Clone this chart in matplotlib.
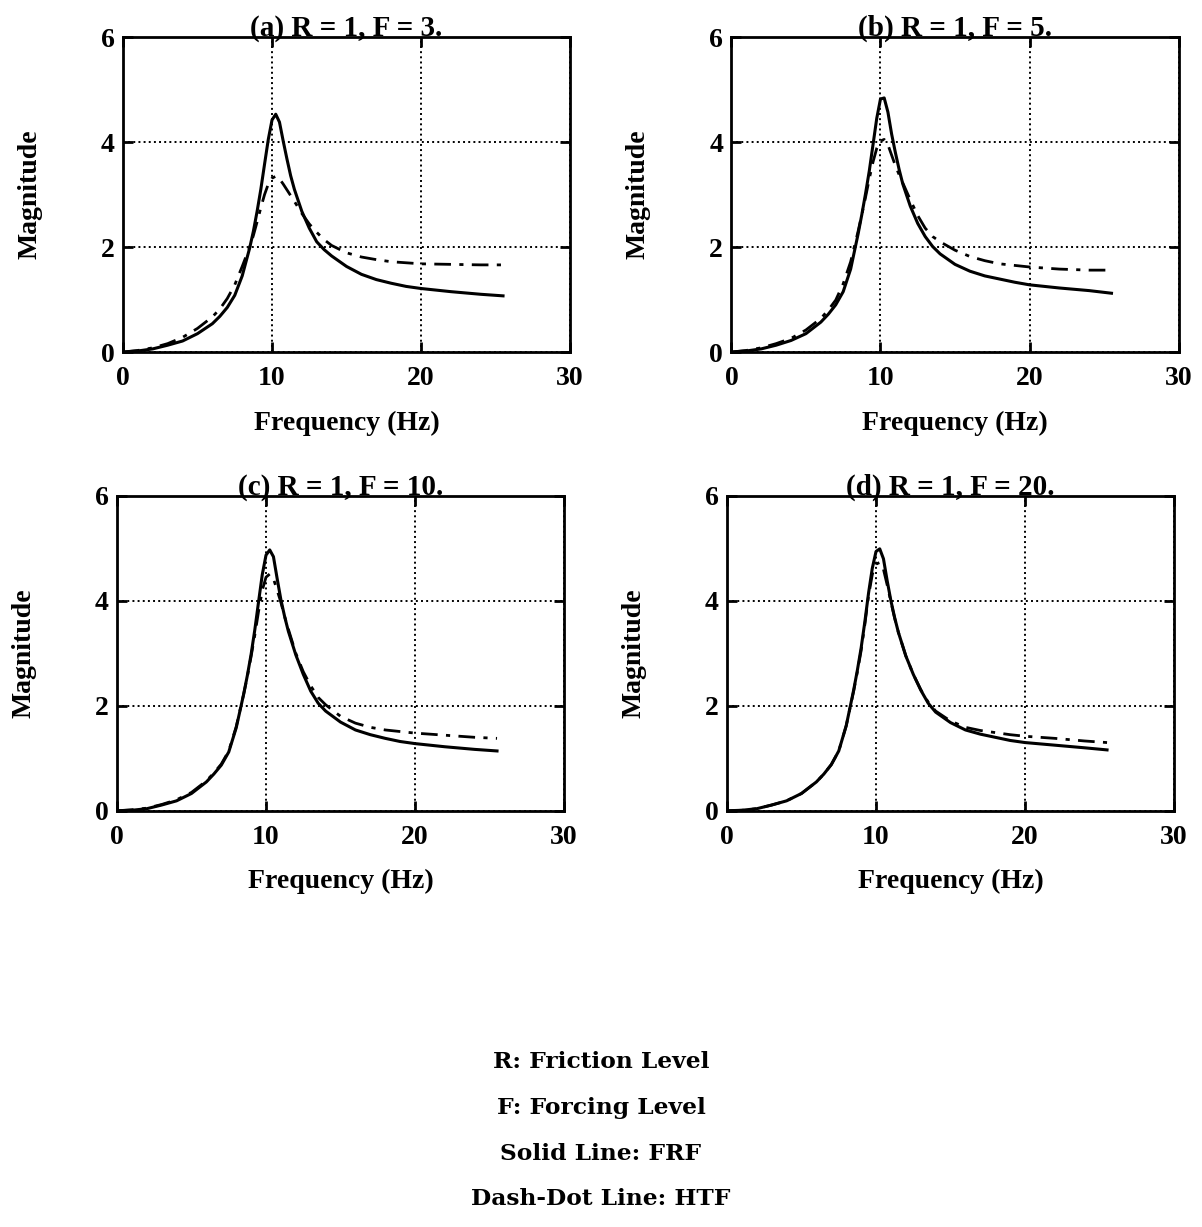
import matplotlib
matplotlib.use('Agg')
import matplotlib.pyplot as plt

plt.rcParams['font.family'] = ['Liberation Serif', 'DejaVu Serif']
plt.rcParams['font.weight'] = 'bold'

# 频率点 (Hz)
freq = [0, 1, 2, 3, 4, 5, 6, 6.5, 7, 7.5, 8, 8.5, 8.75, 9, 9.25, 9.5, 9.75,
        10, 10.25, 10.5, 10.75, 11, 11.25, 11.5, 12, 12.5, 13, 13.5, 14, 15,
        16, 17, 18, 19, 20, 22, 24, 25.5]

# (a) R = 1, F = 3
frf_a = [0, 0.02, 0.06, 0.13, 0.21, 0.35, 0.54, 0.68, 0.85, 1.08, 1.45, 1.98,
         2.30, 2.68, 3.10, 3.58, 4.05, 4.42, 4.53, 4.38, 4.02, 3.68, 3.36,
         3.10, 2.68, 2.36, 2.10, 1.95, 1.83, 1.63, 1.48, 1.38, 1.31, 1.25,
         1.21, 1.15, 1.10, 1.07]
htf_a = [0, 0.03, 0.08, 0.16, 0.28, 0.45, 0.67, 0.82, 1.02, 1.28, 1.63, 2.00,
         2.22, 2.48, 2.75, 3.00, 3.20, 3.31, 3.35, 3.30, 3.20, 3.09, 2.98,
         2.87, 2.64, 2.44, 2.28, 2.14, 2.03, 1.89, 1.81, 1.76, 1.72, 1.70,
         1.68, 1.67, 1.66, 1.66]

# (b) R = 1, F = 5
frf_b = [0, 0.02, 0.06, 0.13, 0.22, 0.35, 0.57, 0.72, 0.90, 1.15, 1.58, 2.25,
         2.62, 3.02, 3.45, 3.95, 4.45, 4.82, 4.84, 4.57, 4.15, 3.80, 3.48,
         3.20, 2.78, 2.45, 2.20, 2.01, 1.87, 1.67, 1.54, 1.45, 1.39, 1.33,
         1.28, 1.22, 1.17, 1.12]
htf_b = [0, 0.03, 0.08, 0.16, 0.26, 0.42, 0.64, 0.80, 0.99, 1.30, 1.72, 2.30,
         2.62, 2.95, 3.30, 3.62, 3.88, 4.02, 4.05, 3.95, 3.75, 3.55, 3.38,
         3.22, 2.90, 2.60, 2.36, 2.20, 2.10, 1.94, 1.82, 1.74, 1.68, 1.65,
         1.62, 1.58, 1.56, 1.56]

# (c) R = 1, F = 10
frf_c = [0, 0.01, 0.04, 0.11, 0.19, 0.33, 0.55, 0.70, 0.87, 1.12, 1.58, 2.22,
         2.58, 2.98, 3.45, 3.98, 4.50, 4.87, 4.97, 4.84, 4.42, 4.02, 3.70,
         3.42, 2.97, 2.60, 2.28, 2.05, 1.90, 1.69, 1.54, 1.45, 1.38, 1.32,
         1.28, 1.22, 1.17, 1.14]
htf_c = [0, 0.02, 0.05, 0.12, 0.21, 0.35, 0.57, 0.72, 0.89, 1.14, 1.60, 2.22,
         2.56, 2.94, 3.35, 3.80, 4.20, 4.45, 4.51, 4.42, 4.20, 3.97, 3.70,
         3.46, 3.00, 2.65, 2.38, 2.16, 2.02, 1.80, 1.67, 1.59, 1.54, 1.51,
         1.48, 1.44, 1.40, 1.38]

# (d) R = 1, F = 20
frf_d = [0, 0.01, 0.04, 0.11, 0.19, 0.33, 0.55, 0.70, 0.88, 1.14, 1.62, 2.30,
         2.68, 3.10, 3.60, 4.15, 4.62, 4.94, 4.99, 4.80, 4.38, 4.00, 3.68,
         3.40, 2.95, 2.60, 2.30, 2.05, 1.88, 1.68, 1.54, 1.46, 1.40, 1.34,
         1.30, 1.25, 1.20, 1.16]
htf_d = [0, 0.01, 0.04, 0.11, 0.19, 0.33, 0.55, 0.70, 0.88, 1.14, 1.62, 2.28,
         2.65, 3.05, 3.55, 4.10, 4.50, 4.70, 4.73, 4.60, 4.30, 3.98, 3.67,
         3.40, 2.95, 2.60, 2.31, 2.07, 1.90, 1.71, 1.59, 1.53, 1.49, 1.45,
         1.42, 1.38, 1.33, 1.30]

titles = ['(a) R = 1, F = 3.', '(b) R = 1, F = 5.',
          '(c) R = 1, F = 10.', '(d) R = 1, F = 20.']
frf_all = [frf_a, frf_b, frf_c, frf_d]
htf_all = [htf_a, htf_b, htf_c, htf_d]

# 子图位置 [left, bottom, width, height]
rects = [[0.1023, 0.7131, 0.372, 0.2567],
         [0.6085, 0.7131, 0.372, 0.2567],
         [0.0973, 0.3392, 0.372, 0.2567],
         [0.6048, 0.3392, 0.372, 0.2567]]

fig = plt.figure(figsize=(12.02, 12.27), dpi=100)

for i in range(4):
    ax = fig.add_axes(rects[i])
    ax.plot(freq, frf_all[i], color='black', linewidth=2.2, linestyle='-')
    ax.plot(freq, htf_all[i], color='black', linewidth=2.0,
            linestyle=(0, (6, 3, 1.5, 3)))
    ax.set_xlim(0, 30)
    ax.set_ylim(0, 6)
    ax.set_xticks([0, 10, 20, 30])
    ax.set_yticks([0, 2, 4, 6])
    ax.grid(True, color='black', linestyle=':', linewidth=1.4)
    ax.tick_params(direction='in', length=7, width=2, top=True, right=True,
                   labelsize=20, pad=6)
    ax.tick_params(axis='x', pad=10)
    for lab in ax.get_xticklabels() + ax.get_yticklabels():
        lab.set_fontweight('bold')
    for sp in ax.spines.values():
        sp.set_linewidth(2)
    ax.set_xlabel('Frequency (Hz)', fontsize=20, fontweight='bold', labelpad=14)
    ax.set_ylabel('Magnitude', fontsize=20, fontweight='bold', labelpad=42)
    ax.set_title(titles[i], fontsize=21, fontweight='bold', pad=1)

notes = ['R: Friction Level', 'F: Forcing Level',
         'Solid Line: FRF', 'Dash-Dot Line: HTF']
ys = [1062, 1108, 1154, 1199]
for t, y in zip(notes, ys):
    fig.text(0.5, 1 - y / 1227, t, ha='center', va='center', fontsize=16.8,
             fontweight='bold', family=['DejaVu Serif'])

fig.savefig('out.png', dpi=100, facecolor='white')
